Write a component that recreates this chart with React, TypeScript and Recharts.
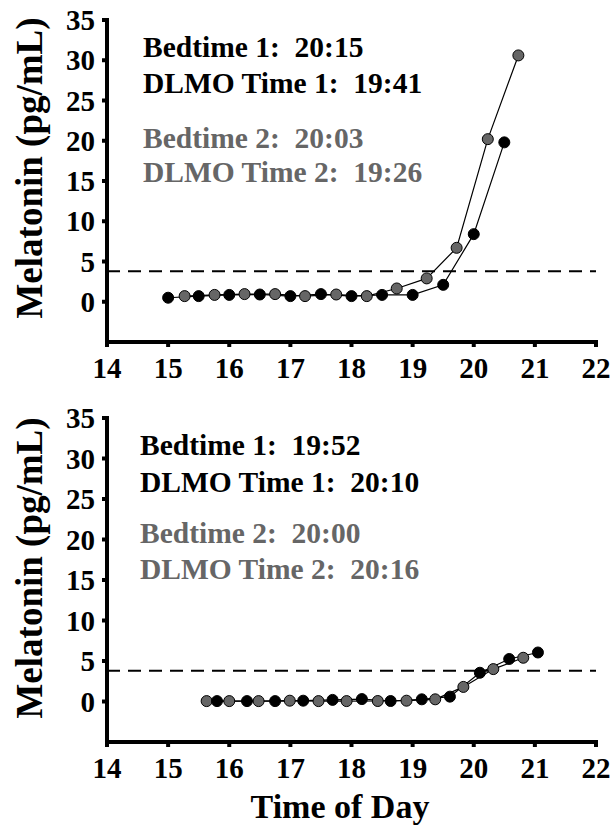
import React from "react";
import { LineChart, Line, XAxis, YAxis, ReferenceLine } from "recharts";

const SERIF = "Liberation Serif";

// axis ticks
const hourTicks = [14, 15, 16, 17, 18, 19, 20, 21, 22];
const melTicks = [0, 5, 10, 15, 20, 25, 30, 35];
const threshold = 3.8;

// top panel, night 1 (black) and night 2 (gray)
const topTime1 = [15.0, 15.5, 16.0, 16.5, 17.0, 17.5, 18.0, 18.5, 19.0, 19.5, 20.0, 20.5];
const topMel1 = [0.5, 0.7, 0.85, 0.9, 0.7, 0.95, 0.7, 0.85, 0.85, 2.1, 8.4, 19.8];
const topTime2 = [15.27, 15.76, 16.25, 16.75, 17.24, 17.75, 18.25, 18.74, 19.23, 19.72, 20.23, 20.73];
const topMel2 = [0.7, 0.85, 0.95, 0.95, 0.7, 0.9, 0.7, 1.65, 2.9, 6.7, 20.2, 30.6];

// bottom panel
const botTime1 = [15.8, 16.29, 16.75, 17.21, 17.69, 18.17, 18.64, 19.15, 19.61, 20.1, 20.58, 21.05];
const botMel1 = [0.05, 0.05, 0.05, 0.1, 0.2, 0.3, 0.06, 0.27, 0.6, 3.55, 5.25, 6.05];
const botTime2 = [15.63, 16.0, 16.48, 16.99, 17.46, 17.92, 18.43, 18.9, 19.37, 19.83, 20.32, 20.81];
const botMel2 = [0.05, 0.05, 0.05, 0.1, 0.05, 0.05, 0.06, 0.1, 0.27, 1.8, 4.0, 5.4];

const topNotes = ["Bedtime 1:  20:15", "DLMO Time 1:  19:41", "Bedtime 2:  20:03", "DLMO Time 2:  19:26"];
const botNotes = ["Bedtime 1:  19:52", "DLMO Time 1:  20:10", "Bedtime 2:  20:00", "DLMO Time 2:  20:16"];

const zip = (t: number[], v: number[]) => t.map((x, i) => ({ t: x, mel: v[i] }));

const txt = { fontFamily: SERIF, fontWeight: 700 as const };

// custom tick labels, bold serif
const renderXTick = (props: any) => (
  <text
    x={props.x}
    y={props.y + 20}
    textAnchor="middle"
    fill="#000"
    fontSize={29}
    fontWeight="bold"
    fontFamily={SERIF}
    style={txt}
  >
    {props.payload.value}
  </text>
);
const renderYTick = (props: any) => (
  <text
    x={props.x - 1}
    y={props.y + 10}
    textAnchor="end"
    fill="#000"
    fontSize={29}
    fontWeight="bold"
    fontFamily={SERIF}
    style={txt}
  >
    {props.payload.value}
  </text>
);

interface PanelProps {
  height: number;
  marginTop: number;
  marginBottom: number;
  black: { t: number; mel: number }[];
  gray: { t: number; mel: number }[];
  notes: string[];
  noteX: number;
  noteY: number[];
  labelY: number;
  xTitleY?: number;
}

function Panel(p: PanelProps) {
  const axisStyle = { stroke: "#000", strokeWidth: 4, strokeLinecap: "square" as const };
  return (
    <LineChart
      width={612}
      height={p.height}
      margin={{ top: p.marginTop, right: 16, left: 47, bottom: p.marginBottom }}
    >
      <XAxis
        type="number"
        dataKey="t"
        domain={[14, 22]}
        ticks={hourTicks}
        interval={0}
        height={40}
        tick={renderXTick}
        tickSize={5}
        tickMargin={11}
        axisLine={axisStyle}
        tickLine={{ stroke: "#000", strokeWidth: 4 }}
      />
      <YAxis
        type="number"
        domain={[-5, 35]}
        ticks={melTicks}
        interval={0}
        width={60}
        tick={renderYTick}
        tickSize={5}
        tickMargin={6}
        axisLine={axisStyle}
        tickLine={{ stroke: "#000", strokeWidth: 4 }}
      />
      <ReferenceLine y={threshold} stroke="#000" strokeWidth={2} strokeDasharray="13 8" />
      <Line
        data={p.gray}
        dataKey="mel"
        stroke="#000"
        strokeWidth={1.2}
        dot={{ r: 5.5, fill: "#666", stroke: "#000", strokeWidth: 1 }}
        isAnimationActive={false}
      />
      <Line
        data={p.black}
        dataKey="mel"
        stroke="#000"
        strokeWidth={1.2}
        dot={{ r: 5.5, fill: "#000", stroke: "#000", strokeWidth: 1 }}
        isAnimationActive={false}
      />
      {p.notes.map((n, i) => (
        <text
          key={n}
          x={p.noteX}
          y={p.noteY[i]}
          fill={i < 2 ? "#000" : "#666"}
          fontSize={29.5}
          style={{ ...txt, whiteSpace: "pre" }}
        >
          {n}
        </text>
      ))}
      <text
        transform={`translate(29, ${p.labelY}) rotate(-90)`}
        textAnchor="middle"
        dominantBaseline="central"
        fill="#000"
        fontSize={37}
        style={txt}
      >
        Melatonin (pg/mL)
      </text>
      {p.xTitleY !== undefined && (
        <text x={340} y={p.xTitleY} textAnchor="middle" fill="#000" fontSize={34} style={txt}>
          Time of Day
        </text>
      )}
    </LineChart>
  );
}

export default function App() {
  return (
    <div style={{ position: "absolute", left: 0, top: 0, width: 612, height: 826, background: "#fff" }}>
      <Panel
        height={400}
        marginTop={20}
        marginBottom={18}
        black={zip(topTime1, topMel1)}
        gray={zip(topTime2, topMel2)}
        notes={topNotes}
        noteX={143}
        noteY={[57, 93, 148, 182]}
        labelY={168}
      />
      <Panel
        height={426}
        marginTop={18}
        marginBottom={44}
        black={zip(botTime1, botMel1)}
        gray={zip(botTime2, botMel2)}
        notes={botNotes}
        noteX={140}
        noteY={[55, 92, 143, 179]}
        labelY={168}
        xTitleY={418}
      />
    </div>
  );
}
